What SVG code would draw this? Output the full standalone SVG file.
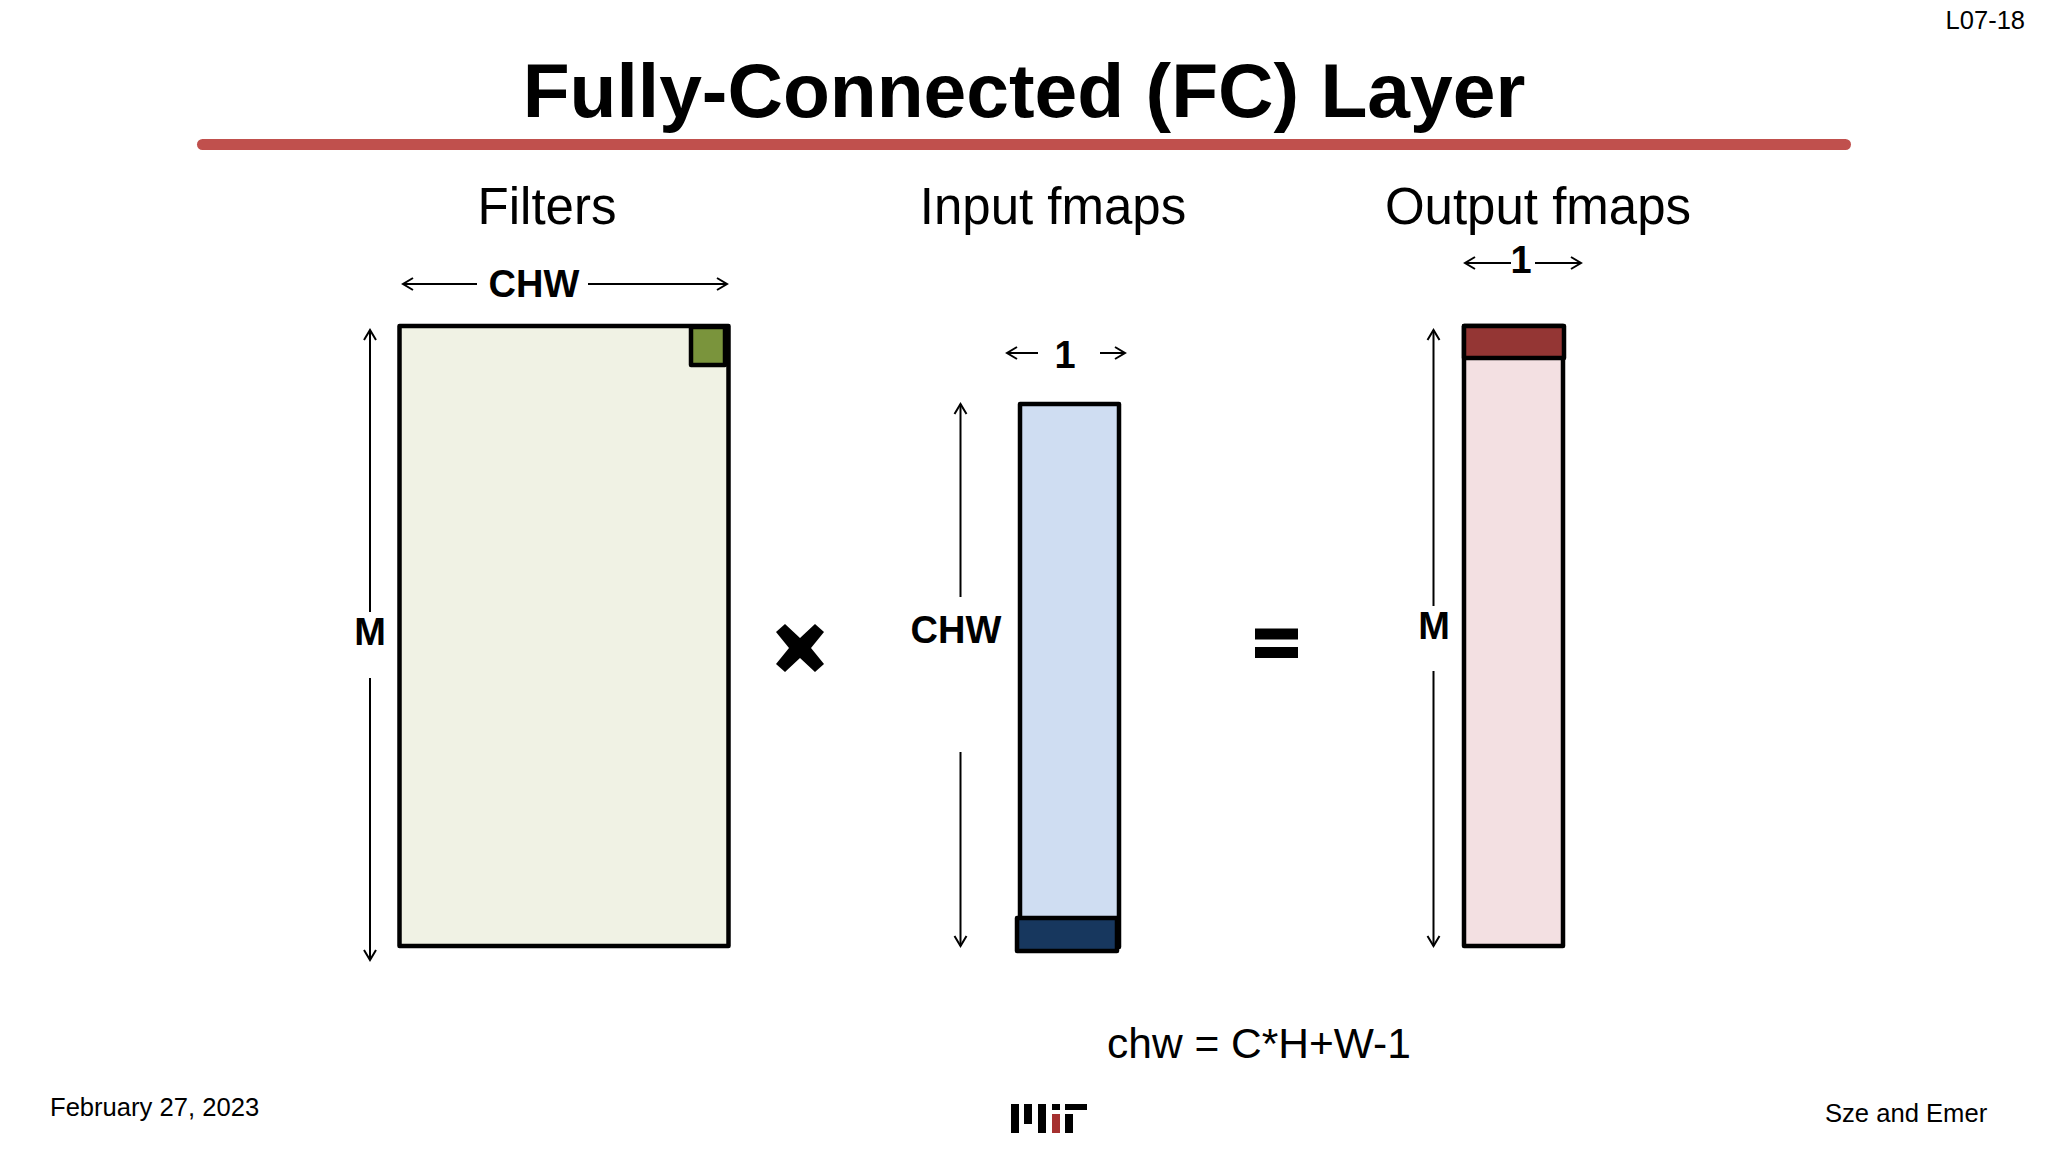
<svg xmlns="http://www.w3.org/2000/svg" width="2048" height="1152" viewBox="0 0 2048 1152">
<style>
text{font-family:"Liberation Sans",Arial,sans-serif;fill:#000}
.b{font-weight:700;font-size:38px;text-anchor:middle}
.h{font-size:51px;text-anchor:middle}
.f{font-size:25.600px}
.box{stroke:#000;stroke-width:4.500;stroke-linejoin:round}
.a{stroke:#000;stroke-width:2;fill:none}
.e{marker-end:url(#o)}
</style>
<defs>
<marker id="o" markerUnits="userSpaceOnUse" markerWidth="16" markerHeight="16" refX="13" refY="8" orient="auto">
<path d="M3 2L13 8L3 14" fill="none" stroke="#000" stroke-width="2"/>
</marker>
</defs>
<rect width="2048" height="1152" fill="#fff"/>
<g id="title">
<text x="1024" y="117" font-size="76.800" font-weight="700" text-anchor="middle">Fully-Connected (FC) Layer</text>
<rect x="197" y="139" width="1654" height="11" rx="5.500" fill="#c0504d"/>
</g>
<text x="2025" y="29" font-size="25.500" text-anchor="end">L07-18</text>
<text class="h" x="547" y="224">Filters</text>
<text class="h" x="1053" y="224">Input fmaps</text>
<text class="h" x="1538" y="224">Output fmaps</text>
<g id="filters">
<rect class="box" x="399.500" y="326" width="329" height="620" fill="#f0f2e4"/>
<rect class="box" x="691" y="327" width="34" height="38" fill="#7a943c"/>
</g>
<g id="input">
<rect class="box" x="1020" y="404" width="99" height="543" fill="#cfddf2"/>
<rect class="box" x="1017" y="918" width="100" height="33" fill="#17375e"/>
</g>
<g id="output">
<rect class="box" x="1464" y="326" width="99" height="620" fill="#f3e0e2"/>
<rect class="box" x="1464" y="326" width="100" height="32" fill="#943634"/>
</g>
<g id="connectors">
<line class="a e" x1="477" y1="284" x2="403" y2="284"/>
<line class="a e" x1="588" y1="284" x2="727" y2="284"/>
<line class="a e" x1="370" y1="612" x2="370" y2="330"/>
<line class="a e" x1="370" y1="678" x2="370" y2="960"/>
<line class="a e" x1="960.500" y1="597" x2="960.500" y2="404"/>
<line class="a e" x1="960.500" y1="752" x2="960.500" y2="946"/>
<line class="a e" x1="1038" y1="353" x2="1007" y2="353"/>
<line class="a e" x1="1100" y1="353" x2="1125" y2="353"/>
<line class="a e" x1="1511" y1="263" x2="1465" y2="263"/>
<line class="a e" x1="1535" y1="263" x2="1581" y2="263"/>
<line class="a e" x1="1433.500" y1="606" x2="1433.500" y2="330"/>
<line class="a e" x1="1433.500" y1="671" x2="1433.500" y2="946"/>
</g>
<text class="b" x="534" y="297">CHW</text>
<text class="b" x="370" y="645">M</text>
<text class="b" x="956" y="643">CHW</text>
<text class="b" x="1065" y="368">1</text>
<text class="b" x="1521" y="273">1</text>
<text class="b" x="1434" y="639">M</text>
<g id="times"><path d="M785 624L800 638L815 624L824 632L811 648L824 664L815 672L800 658L785 672L776 664L789 648L776 632Z" fill="#000"/></g>
<g id="equals"><rect x="1255" y="628.500" width="43" height="11" fill="#000"/><rect x="1255" y="647" width="43" height="11" fill="#000"/></g>
<text x="1107" y="1058" font-size="42.500">chw = C*H+W-1</text>
<text class="f" x="50" y="1116">February 27, 2023</text>
<text class="f" x="1825" y="1122">Sze and Emer</text>
<g id="mit-logo" fill="#000">
<rect x="1011" y="1104" width="8" height="29"/>
<rect x="1024" y="1104" width="8" height="20"/>
<rect x="1038" y="1104" width="8" height="29"/>
<rect x="1052" y="1104" width="8" height="6"/>
<rect x="1052" y="1114" width="8" height="19" fill="#a5302f"/>
<rect x="1065" y="1104" width="22" height="6"/>
<rect x="1065" y="1114" width="8" height="19"/>
</g>
</svg>
